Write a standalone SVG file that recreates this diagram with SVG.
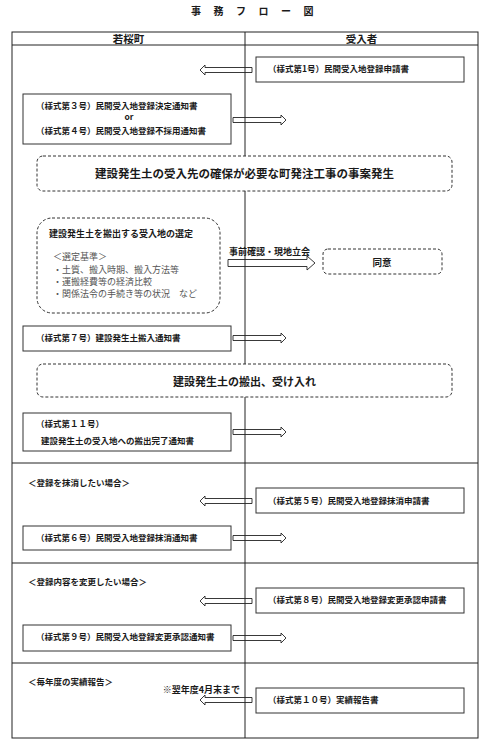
<svg xmlns="http://www.w3.org/2000/svg" width="497" height="751" viewBox="0 0 497 751">
<style>
text{font-family:"Noto Sans CJK JP","Noto Sans CJK SC",sans-serif;fill:#1a1a1a}
.b{font-weight:bold}
.t{font-size:8.5px;font-weight:bold}
.g{font-size:9px;fill:#555}
.box{fill:#fff;stroke:#333;stroke-width:1}
.dash{fill:#fff;stroke:#333;stroke-width:1;stroke-dasharray:3 2}
.grid{fill:none;stroke:#222;stroke-width:1}
.arr{fill:none;stroke:#222;stroke-width:0.9}
</style>
<rect width="497" height="751" fill="#fff"/>
<text x="191" y="14.8" class="b" font-size="10" letter-spacing="12.5">事務フロー図</text>
<g id="table">
<rect class="grid" x="12" y="32" width="466" height="706"/>
<line class="grid" x1="12" y1="45" x2="478" y2="45"/>
<line class="grid" x1="245" y1="32" x2="245" y2="738"/>
<line class="grid" x1="12" y1="463" x2="478" y2="463"/>
<line class="grid" x1="12" y1="563" x2="478" y2="563"/>
<line class="grid" x1="12" y1="663" x2="478" y2="663"/>
<text x="128.5" y="43" class="b" font-size="10.5" text-anchor="middle">若桜町</text>
<text x="361.5" y="43" class="b" font-size="10.5" text-anchor="middle">受入者</text>
</g>
<g id="connectors">
<path class="arr" d="M252,67.5H205V65L200,70L205,75V72.5H252Z"/>
<path class="arr" d="M233,117.5H281V115L286,120L281,125V122.5H233Z"/>
<path class="arr" d="M228,259.5H307V256L315,263L307,270V266.5H228Z"/>
<text x="229" y="255.4" class="b" font-size="9">事前確認・現地立会</text>
<path class="arr" d="M233,335.5H281V333L286,338L281,343V340.5H233Z"/>
<path class="arr" d="M233,429.5H281V427L286,432L281,437V434.5H233Z"/>
<path class="arr" d="M252,498.5H205V496L200,501L205,506V503.5H252Z"/>
<path class="arr" d="M233,535.5H281V533L286,538L281,543V540.5H233Z"/>
<path class="arr" d="M252,598.5H205V596L200,601L205,606V603.5H252Z"/>
<path class="arr" d="M233,635.5H281V633L286,638L281,643V640.5H233Z"/>
<path class="arr" d="M252,697.5H205V695L200,700L205,705V702.5H252Z"/>
<text x="240" y="693.4" class="b" font-size="9" text-anchor="end">※翌年度4月末まで</text>
</g>
<g id="n1"><rect class="box" x="256" y="57" width="208" height="25"/><text x="268" y="72.2" class="t">（様式第1号）民間受入地登録申請書</text></g>
<g id="n2"><rect class="box" x="23" y="94" width="208" height="50"/>
<text x="36" y="109.2" class="t">（様式第３号）民間受入地登録決定通知書</text>
<text x="129" y="119.8" class="t" text-anchor="middle">or</text>
<text x="36" y="134.2" class="t">（様式第４号）民間受入地登録不採用通知書</text></g>
<g id="n3"><rect class="dash" x="37" y="156" width="415" height="35" rx="6"/><text x="244.5" y="178.4" class="b" font-size="11.5" text-anchor="middle">建設発生土の受入先の確保が必要な町発注工事の事案発生</text></g>
<g id="n4"><rect class="dash" x="37" y="218" width="183" height="95" rx="15"/>
<text x="49" y="237.4" class="b" font-size="9">建設発生土を搬出する受入地の選定</text>
<text x="53" y="260.4" class="g">＜選定基準＞</text>
<text x="53" y="273.4" class="g">・土質、搬入時期、搬入方法等</text>
<text x="53" y="285.4" class="g">・運搬経費等の経済比較</text>
<text x="53" y="297.4" class="g">・関係法令の手続き等の状況　など</text></g>
<g id="n5"><rect class="dash" x="323" y="249" width="119" height="25" rx="5"/><text x="382" y="265.5" class="b" font-size="9.5" text-anchor="middle">同意</text></g>
<g id="n6"><rect class="box" x="23" y="326" width="208" height="25"/><text x="36" y="341.2" class="t">（様式第７号）建設発生土搬入通知書</text></g>
<g id="n7"><rect class="dash" x="37" y="364" width="415" height="33" rx="6"/><text x="244.5" y="386.2" class="b" font-size="11" text-anchor="middle">建設発生土の搬出、受け入れ</text></g>
<g id="n8"><rect class="box" x="23" y="413" width="208" height="38"/>
<text x="36" y="427.2" class="t">（様式第１１号）</text>
<text x="41" y="444.2" class="t">建設発生土の受入地への搬出完了通知書</text></g>
<g id="s1"><text x="28" y="486.3" class="t">＜登録を抹消したい場合＞</text></g>
<g id="n9"><rect class="box" x="256" y="488" width="208" height="25"/><text x="268" y="504.2" class="t">（様式第５号）民間受入地登録抹消申請書</text></g>
<g id="n10"><rect class="box" x="23" y="526" width="208" height="24"/><text x="36" y="541.2" class="t">（様式第６号）民間受入地登録抹消通知書</text></g>
<g id="s2"><text x="28" y="585.3" class="t">＜登録内容を変更したい場合＞</text></g>
<g id="n11"><rect class="box" x="256" y="588" width="208" height="25"/><text x="268" y="603.2" class="t">（様式第８号）民間受入地登録変更承認申請書</text></g>
<g id="n12"><rect class="box" x="23" y="625" width="208" height="26"/><text x="36" y="640.2" class="t">（様式第９号）民間受入地登録変更承認通知書</text></g>
<g id="s3"><text x="28" y="685.3" class="t">＜毎年度の実績報告＞</text></g>
<g id="n13"><rect class="box" x="256" y="688" width="208" height="25"/><text x="268" y="703.2" class="t">（様式第１０号）実績報告書</text></g>
</svg>
